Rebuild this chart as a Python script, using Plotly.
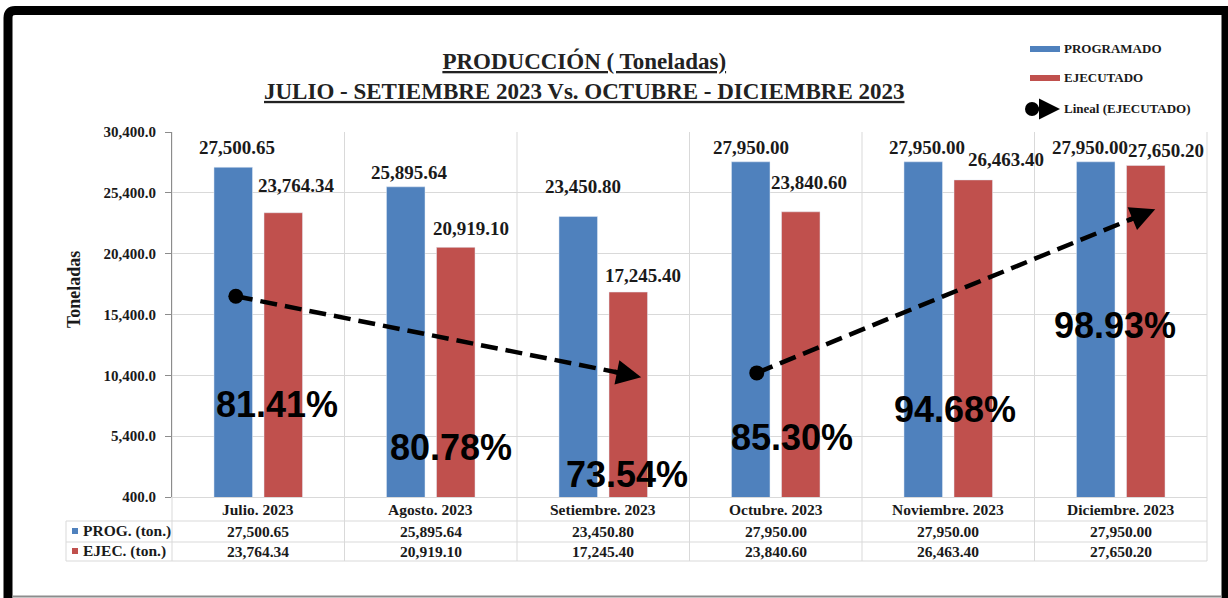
import plotly.graph_objects as go

# --- data -------------------------------------------------------------
months = ["Julio. 2023", "Agosto. 2023", "Setiembre. 2023",
          "Octubre. 2023", "Noviembre. 2023", "Diciembre. 2023"]
programado = [27500.65, 25895.64, 23450.80, 27950.00, 27950.00, 27950.00]
ejecutado = [23764.34, 20919.10, 17245.40, 23840.60, 26463.40, 27650.20]
cumplimiento = ["81.41%", "80.78%", "73.54%", "85.30%", "94.68%", "98.93%"]

# trend arrows for EJECUTADO: (x start, y start, x end, y end) in axis units
trend_q3 = [-0.13, 16900, 2.22, 10250]
trend_q4 = [2.89, 10600, 5.20, 24050]

# --- styling ----------------------------------------------------------
BLUE = "#4F81BD"
RED = "#C0504D"
GRID = "#D9D9D9"
TXT = "#1a1a1a"
SERIF = "Liberation Serif"
SANS = "Liberation Sans"

W, H = 1228, 598
L, R, T, B = 172, 1207, 132, 497  # plot area in pixels


def px(x):
    return (x - L) / (R - L)


def py(y):
    return (B - y) / (B - T)


fmt = lambda v: f"{v:,.2f}"

x_idx = list(range(len(months)))

fig = go.Figure()
fig.add_bar(x=x_idx, y=programado, name="PROGRAMADO", marker_color=BLUE,
            showlegend=False)
fig.add_bar(x=x_idx, y=ejecutado, name="EJECUTADO", marker_color=RED,
            showlegend=False)

annotations = []
shapes = []

for tr in (trend_q3, trend_q4):
    x0, y0, x1, y1 = tr
    # dashed body stops a little short of the tip, the head is an annotation arrow
    f = 0.955
    fig.add_scatter(x=[x0, x0 + (x1 - x0) * f], y=[y0, y0 + (y1 - y0) * f],
                    mode="lines", line=dict(color="black", width=4.5, dash="17px,8px"),
                    cliponaxis=False, showlegend=False, name="Lineal (EJECUTADO)")
    fig.add_scatter(x=[x0], y=[y0], mode="markers",
                    marker=dict(symbol="circle", size=15, color="black"),
                    cliponaxis=False, showlegend=False, hoverinfo="skip")
    g = 0.93
    annotations.append(dict(x=x1, y=y1, ax=x0 + (x1 - x0) * g, ay=y0 + (y1 - y0) * g,
                            xref="x", yref="y", axref="x", ayref="y", text="",
                            showarrow=True, arrowhead=2, arrowsize=1.1,
                            arrowwidth=4.5, arrowcolor="black"))


def note(**kw):
    kw.setdefault("showarrow", False)
    kw.setdefault("xanchor", "center")
    kw.setdefault("yanchor", "middle")
    annotations.append(kw)


# value labels above bars (per-label nudges in pixels)
prog_shift = [(4, 20), (4, 14), (5, 30), (0, 14), (4, 14), (-6, 14)]
ejec_shift = [(13, 27), (15, 19), (15, 17), (8, 29), (33, 20), (20, 15)]
for i in x_idx:
    note(x=i, y=programado[i], text=f"<b>{fmt(programado[i])}</b>",
         xref="x", yref="y",
         xshift=-25 + prog_shift[i][0], yshift=prog_shift[i][1],
         font=dict(family=SERIF, size=19, color=TXT))
    note(x=i, y=ejecutado[i], text=f"<b>{fmt(ejecutado[i])}</b>",
         xref="x", yref="y",
         xshift=25 + ejec_shift[i][0], yshift=ejec_shift[i][1],
         font=dict(family=SERIF, size=19, color=TXT))

# compliance percentages
pct_pos = [(277, 404), (451, 447), (627, 474), (792, 437), (955, 409), (1115, 325)]
for txt, (cx, cy) in zip(cumplimiento, pct_pos):
    note(x=px(cx), y=py(cy), xref="paper", yref="paper",
         text=f"<b>{txt}</b>",
         font=dict(family=SANS, size=36, color="black"))

# data table under the plot
row_y = [509, 531, 551]
tfont = dict(family=SERIF, size=15.5, color=TXT)
for i in x_idx:
    note(x=i, y=py(row_y[0]), xref="x", yref="paper",
         text=f"<b>{months[i]}</b>", font=tfont)
    note(x=i, y=py(row_y[1]), xref="x", yref="paper",
         text=f"<b>{fmt(programado[i])}</b>", font=tfont)
    note(x=i, y=py(row_y[2]), xref="x", yref="paper",
         text=f"<b>{fmt(ejecutado[i])}</b>", font=tfont)
for lbl, col, yy in (("PROG. (ton.)", BLUE, row_y[1]), ("EJEC. (ton.)", RED, row_y[2])):
    shapes.append(dict(type="rect", xref="paper", yref="paper",
                       x0=px(72), x1=px(78), y0=py(yy - 3), y1=py(yy + 3),
                       fillcolor=col, line=dict(width=0)))
    note(x=px(81), y=py(yy), xref="paper", yref="paper",
         text=f"<b>{lbl}</b>", xanchor="left", font=tfont)

tbl_left, tbl_bottom = 66, 561
for yy in (521, 542, tbl_bottom):
    shapes.append(dict(type="line", xref="paper", yref="paper",
                       x0=px(tbl_left), x1=1, y0=py(yy), y1=py(yy),
                       line=dict(color=GRID, width=1)))
shapes.append(dict(type="line", xref="paper", yref="paper",
                   x0=px(tbl_left), x1=px(tbl_left), y0=py(521), y1=py(tbl_bottom),
                   line=dict(color=GRID, width=1)))
for k in range(len(months) + 1):
    xp = k / len(months)
    shapes.append(dict(type="line", xref="paper", yref="paper",
                       x0=xp, x1=xp, y0=1, y1=py(tbl_bottom),
                       line=dict(color=GRID, width=1), layer="below"))

# title
note(x=px(584), y=py(76), xref="paper", yref="paper",
     text="<b><u>PRODUCCIÓN ( Toneladas)</u></b><br>"
          "<b><u>JULIO - SETIEMBRE 2023 Vs. OCTUBRE - DICIEMBRE 2023</u></b>",
     align="center", font=dict(family=SERIF, size=23, color="#222"))

# y-axis title
note(x=px(74), y=py(289), xref="paper", yref="paper",
     text="<b>Toneladas</b>", textangle=-90,
     font=dict(family=SERIF, size=18, color=TXT))

# legend (top right)
leg_x0, leg_x1 = 1030, 1060
lfont = dict(family=SERIF, size=13, color=TXT)
for lbl, col, yy in (("PROGRAMADO", BLUE, 49), ("EJECUTADO", RED, 78)):
    shapes.append(dict(type="line", xref="paper", yref="paper",
                       x0=px(leg_x0), x1=px(leg_x1), y0=py(yy), y1=py(yy),
                       line=dict(color=col, width=6)))
    note(x=px(leg_x1 + 2), y=py(yy), xref="paper", yref="paper",
         text=f"<b>{lbl}</b>", xanchor="left", font=lfont)
shapes.append(dict(type="circle", xref="paper", yref="paper",
                   x0=px(1025), x1=px(1039), y0=py(102), y1=py(116),
                   fillcolor="black", line=dict(width=0)))
annotations.append(dict(x=px(1060), y=py(109), ax=-24, ay=0,
                        xref="paper", yref="paper", axref="pixel", ayref="pixel",
                        text="", showarrow=True, arrowhead=2, arrowsize=1.2,
                        arrowwidth=3.5, arrowcolor="black"))
note(x=px(leg_x1 + 2), y=py(109), xref="paper", yref="paper",
     text="<b>Lineal (EJECUTADO)</b>", xanchor="left", font=lfont)

# black frame
shapes.append(dict(type="path", xref="paper", yref="paper",
                   path=(f"M {px(8)},{py(640)} L {px(8)},{py(18)} "
                         f"Q {px(8)},{py(10.5)} {px(15)},{py(10.5)} "
                         f"L {px(1226)},{py(10.5)} L {px(1226)},{py(640)}"),
                   line=dict(color="black", width=9)))
shapes.append(dict(type="line", xref="paper", yref="paper",
                   x0=px(12), x1=px(1222), y0=py(596.5), y1=py(596.5),
                   line=dict(color="#8c8c8c", width=2)))

fig.update_layout(
    width=W, height=H,
    margin=dict(l=L, r=W - R, t=T, b=H - B),
    paper_bgcolor="white", plot_bgcolor="white",
    barmode="group", bargap=0.42, bargroupgap=0.23,
    xaxis=dict(range=[-0.5, 5.5], showticklabels=False, showgrid=False,
               zeroline=False, showline=True, linecolor=GRID, linewidth=1,
               ticks=""),
    yaxis=dict(range=[400, 30400], tickvals=[400 + 5000 * k for k in range(7)],
               ticktext=[f"<b>{400 + 5000 * k:,.1f}</b>" for k in range(7)],
               showgrid=True, gridcolor=GRID, gridwidth=1,
               zeroline=False, showline=True, linecolor="#8c8c8c", linewidth=1,
               ticks="outside", ticklen=6, tickcolor="#8c8c8c",
               tickfont=dict(family=SERIF, size=15, color=TXT),
               ticklabelstandoff=6),
    shapes=shapes, annotations=annotations,
)

fig.write_html("out.html")
